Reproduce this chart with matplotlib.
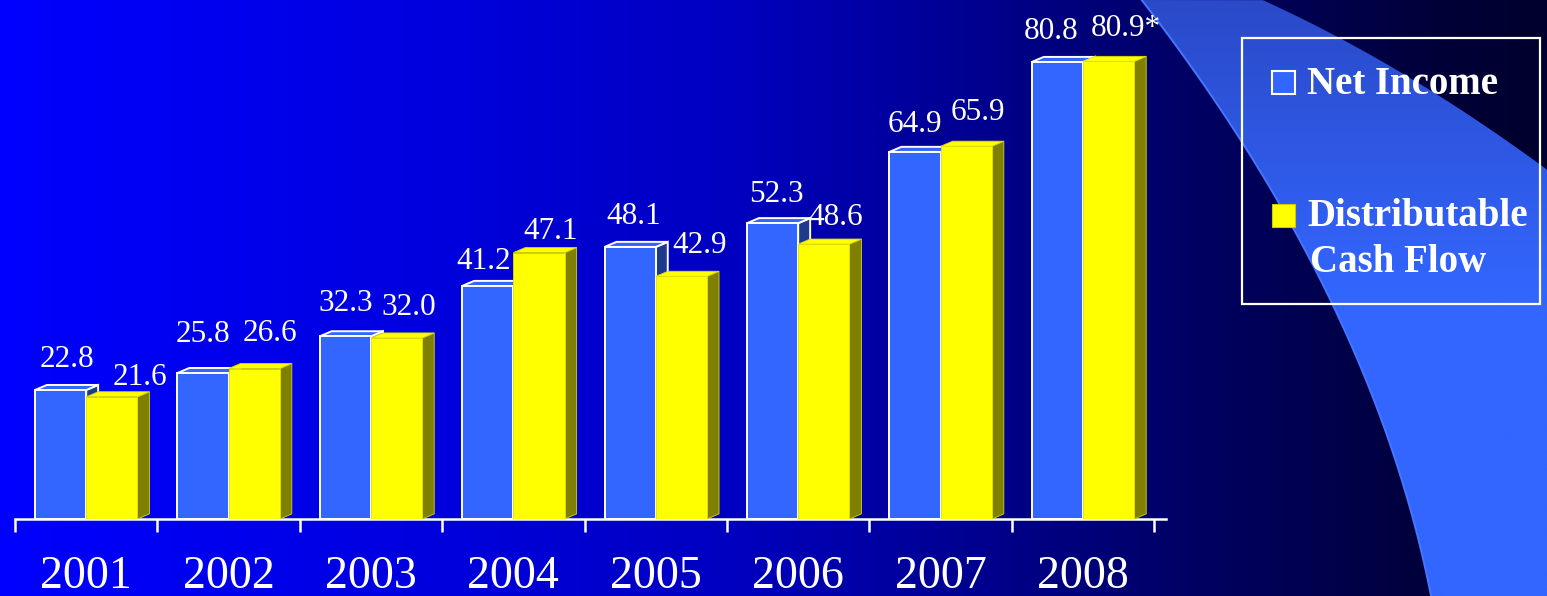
import numpy as np
import matplotlib
matplotlib.use("Agg")
import matplotlib.pyplot as plt
from matplotlib.patches import Polygon, Rectangle
from matplotlib.colors import LinearSegmentedColormap

years = ["2001", "2002", "2003", "2004", "2005", "2006", "2007", "2008"]
net_income = [22.8, 25.8, 32.3, 41.2, 48.1, 52.3, 64.9, 80.8]
cash_flow = [21.6, 26.6, 32.0, 47.1, 42.9, 48.6, 65.9, 80.9]
cash_flow_notes = ["", "", "", "", "", "", "", "*"]

# hand placement of the value labels, in pixels (right, up)
ni_nudge = [(6, 0), (0, 8), (0, 2), (-4, -6), (4, 0), (4, -2), (0, -3), (-6, 0)]
cf_nudge = [(16, -11), (4, 4), (0, 0), (0, -10), (6, 0), (0, -4), (0, 3), (5, 2)]

BLUE = "#3366FF"
BLUE_SIDE = "#1E3A8C"
YELLOW = "#FFFF00"
OLIVE = "#808000"
SERIF = "Liberation Serif"

W, H = 1547, 596
fig = plt.figure(figsize=(W / 100, H / 100), dpi=100)

# ---- background: horizontal blue gradient plus the light swoosh on the right
bg = fig.add_axes([0, 0, 1, 1], zorder=-1)
bg.set_xlim(0, W)
bg.set_ylim(H, 0)
bg.axis("off")

stops_x = [0, 430, 730, 1000, 1190, 1450, W]
stops_b = [255, 222, 192, 138, 100, 55, 45]
xs = np.arange(W)
grad = np.zeros((2, W, 3))
grad[:, :, 2] = np.interp(xs, stops_x, stops_b) / 255
bg.imshow(grad, extent=[0, W, H, 0], aspect="auto", zorder=0)

# smooth edges of the swoosh
ly = np.array([0, 143, 300, 417, 596])
lx = np.array([1143, 1240, 1330, 1383, 1430])
yy = np.linspace(0, H, 120)
xx = np.polyval(np.polyfit(ly, lx, 2), yy)
rx = np.array([1263, 1373, 1473, 1547])
ry = np.array([0, 57, 117, 170])
xr = np.linspace(W, 1263, 60)
yr = np.polyval(np.polyfit(rx, ry, 2), xr)
outline = list(zip(xx, yy)) + [(W, H)] + list(zip(xr, yr))
swoosh = Polygon(outline, closed=True, facecolor="none", edgecolor="none")
bg.add_patch(swoosh)
sw_cmap = LinearSegmentedColormap.from_list(
    "sw", [(42 / 255, 74 / 255, 200 / 255), (51 / 255, 102 / 255, 1.0), (51 / 255, 102 / 255, 1.0)])
im = bg.imshow(np.linspace(0, 1, 300).reshape(-1, 1), cmap=sw_cmap,
               extent=[1100, W, H, 0], aspect="auto", zorder=1)
im.set_clip_path(swoosh)
bg.plot(xx, yy, color="#4576FF", lw=1.4, zorder=2)

# ---- legend box
bg.add_patch(Rectangle((1242, 38), 298, 266, fill=False, edgecolor="white", lw=1.6, zorder=3))
bg.add_patch(Rectangle((1272, 71), 23, 23, facecolor=BLUE, edgecolor="white", lw=1.5, zorder=3))
bg.add_patch(Rectangle((1272, 204), 23, 23, facecolor=YELLOW, edgecolor="#CCCC00", lw=0.8, zorder=3))
leg_font = dict(family=SERIF, fontsize=28, fontweight="bold", color="white", va="center", zorder=4)
bg.text(1307, 84, "Net Income", **leg_font)
bg.text(1307, 217, "Distributable", **leg_font)
bg.text(1310, 262, "Cash Flow", **leg_font)

# ---- bars
ax = fig.add_axes([15 / W, 77 / H, 8.08 * 142.4 / W, 88 * 5.656 / H])
ax.patch.set_visible(False)
ax.set_xlim(-0.5, 7.58)
ax.set_ylim(0, 88)

x = np.arange(len(years))
bw = 0.36
dx, dy = 0.084, 0.9  # depth of the 3-D faces in data units


def faces(x0, h, side_color, top_color, edge, lw, z):
    x1 = x0 + bw
    side = Polygon([(x1, 0), (x1 + dx, dy), (x1 + dx, h + dy), (x1, h)],
                   facecolor=side_color, edgecolor=edge, lw=lw, zorder=z, joinstyle="miter")
    top = Polygon([(x0, h), (x0 + dx, h + dy), (x1 + dx, h + dy), (x1, h)],
                  facecolor=top_color, edgecolor=edge, lw=lw, zorder=z, joinstyle="miter")
    ax.add_patch(side)
    ax.add_patch(top)


for i in x:
    faces(i - bw, net_income[i], BLUE_SIDE, BLUE, "white", 1.4, 2)
    faces(i, cash_flow[i], OLIVE, YELLOW, "#D8D800", 0.6, 3)

ax.bar(x - bw, net_income, width=bw, align="edge", color=BLUE,
       edgecolor="white", linewidth=1.4, zorder=2.5)
ax.bar(x, cash_flow, width=bw, align="edge", color=YELLOW,
       edgecolor="#E0E000", linewidth=0.6, zorder=3.5)

px = 0.72  # points per pixel at 100 dpi
lab_font = dict(family=SERIF, fontsize=22.5, color="white", ha="center", va="baseline")
for i in x:
    nx, ny = ni_nudge[i]
    ax.annotate(f"{net_income[i]:.1f}", (i - bw / 2, net_income[i] + dy),
                xytext=(nx * px, 13 + ny * px), textcoords="offset points", **lab_font)
    cx, cy = cf_nudge[i]
    ax.annotate(f"{cash_flow[i]:.1f}{cash_flow_notes[i]}", (i + bw / 2 + dx, cash_flow[i] + dy),
                xytext=(cx * px, 13 + cy * px), textcoords="offset points", **lab_font)

# ---- axis: white baseline, boundary ticks, year labels
for s in ["left", "right", "top"]:
    ax.spines[s].set_visible(False)
ax.spines["bottom"].set_color("white")
ax.spines["bottom"].set_linewidth(1.8)
ax.set_yticks([])
ax.set_xticks(np.arange(len(years) + 1) - 0.5, labels=[])
ax.set_xticks(x, labels=years, minor=True)
ax.tick_params(axis="x", which="major", direction="out", length=9.5, width=1.8, color="white")
ax.tick_params(axis="x", which="minor", length=0, pad=26, labelcolor="white", labelsize=33)
for t in ax.get_xticklabels(minor=True):
    t.set_family(SERIF)

fig.savefig("out.png", dpi=100)
